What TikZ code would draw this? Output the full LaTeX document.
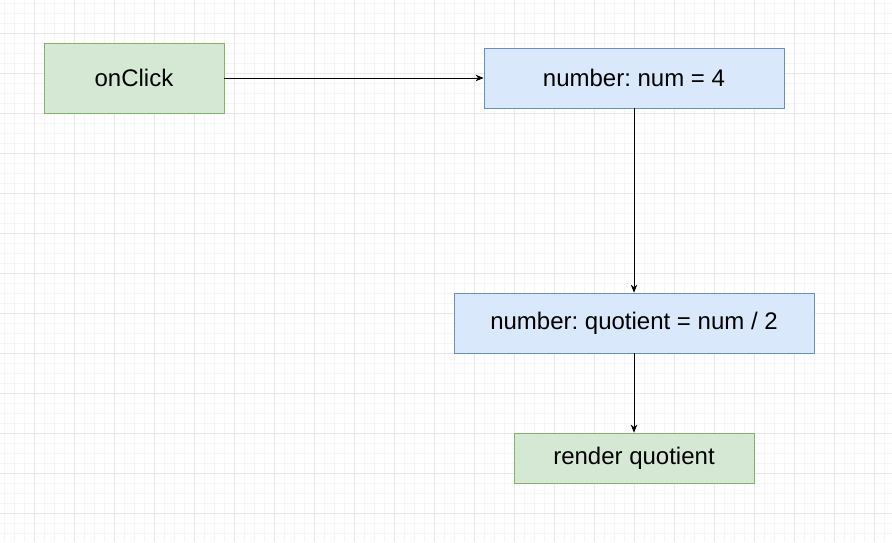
\documentclass[tikz,border=0pt]{standalone}
\usepackage{fontspec}
\setmainfont{Liberation Sans}
\usetikzlibrary{arrows.meta}
\definecolor{greenfill}{HTML}{D5E8D4}
\definecolor{greenline}{HTML}{82B366}
\definecolor{bluefill}{HTML}{DAE8FC}
\definecolor{blueline}{HTML}{6C8EBF}
\definecolor{gridminor}{HTML}{F5F5F5}
\definecolor{gridmajor}{HTML}{E8E8E8}
\frenchspacing
\begin{document}
\begin{tikzpicture}[x=1pt,y=-1pt,
				every node/.style={font=\fontsize{24}{28}\selectfont,inner sep=0pt,line width=0.8pt},
				greenbox/.style={draw=greenline,fill=greenfill},
				bluebox/.style={draw=blueline,fill=bluefill},
				link/.style={line width=0.8pt,-{Stealth[length=8pt,width=6.5pt,inset=2.5pt]}}]
\useasboundingbox (0,0) rectangle (892,542);
\fill[white] (0,0) rectangle (892,542);
% grid
\foreach \x in {4,14,...,894} \draw[gridminor,line width=0.8pt] (\x,0) -- (\x,542);
\foreach \y in {3,13,...,543} \draw[gridminor,line width=0.8pt] (0,\y) -- (892,\y);
\foreach \x in {34,74,...,894} \draw[gridmajor,line width=0.8pt] (\x,0) -- (\x,542);
\foreach \y in {33,73,...,543} \draw[gridmajor,line width=0.8pt] (0,\y) -- (892,\y);
\node[greenbox,minimum width=180pt,minimum height=70pt] (click) at (134,78) {onClick};
\node[bluebox,minimum width=300pt,minimum height=60pt] (num) at (634,78) {number: num = 4};
\node[bluebox,minimum width=360pt,minimum height=60pt] (quot) at (634,323) {number: quotient = num / 2};
\node[greenbox,minimum width=240pt,minimum height=50pt] (render) at (634,458) {render quotient};
\draw[link] (click) -- (num);
\draw[link] (num) -- (quot);
\draw[link] (quot) -- (render);
\end{tikzpicture}
\end{document}
